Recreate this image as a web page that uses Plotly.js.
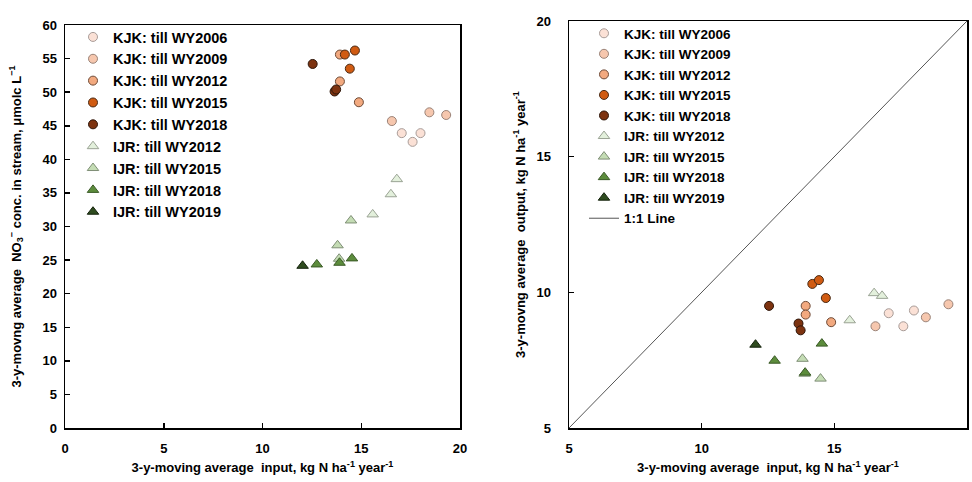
<!DOCTYPE html>
<html><head><meta charset="utf-8">
<script src="https://cdn.plot.ly/plotly-3.0.1.min.js"></script>
<style>body{margin:0;background:#fff}#chart{width:972px;height:482px}</style>
</head><body><div id="chart"></div>
<script>
// Series names
const seriesNames = ["KJK: till WY2006","KJK: till WY2009","KJK: till WY2012","KJK: till WY2015","KJK: till WY2018",
                     "IJR: till WY2012","IJR: till WY2015","IJR: till WY2018","IJR: till WY2019"];
// 3-y moving average input (kg N/ha/yr)
const kjk2006_in = [17.05, 17.6, 18.0];
const kjk2009_in = [16.55, 18.45, 19.3];
const kjk2012_in = [13.92, 13.92, 14.88];
const kjk2015_in = [14.17, 14.42, 14.68];
const kjk2018_in = [12.54, 13.65, 13.73];
const ijr2012_in = [15.58, 16.5, 16.8];
const ijr2015_in = [13.8, 13.88, 14.48];
const ijr2018_in = [12.75, 13.9, 14.53];
const ijr2019_in = [12.03];
// NO3- concentration in stream (umolc/L)
const kjk2006_no3 = [43.9, 42.6, 43.9];
const kjk2009_no3 = [45.7, 47.0, 46.6];
const kjk2012_no3 = [55.6, 51.6, 48.5];
const kjk2015_no3 = [55.6, 53.5, 56.2];
const kjk2018_no3 = [54.2, 50.1, 50.4];
const ijr2012_no3 = [31.8, 34.8, 37.05];
const ijr2015_no3 = [27.2, 25.2, 30.9];
const ijr2018_no3 = [24.35, 24.6, 25.25];
const ijr2019_no3 = [24.15];
// 3-y moving average output (kg N/ha/yr)
const kjk2006_out = [9.23, 8.75, 9.33];
const kjk2009_out = [8.75, 9.08, 9.56];
const kjk2012_out = [9.5, 9.18, 8.9];
const kjk2015_out = [10.31, 10.45, 9.79];
const kjk2018_out = [9.5, 8.85, 8.6];
const ijr2012_out = [8.97, 9.97, 9.87];
const ijr2015_out = [7.55, 7.0, 6.82];
const ijr2018_out = [7.48, 7.04, 8.11];
const ijr2019_out = [8.07];
// 1:1 line
const oneToOne = [5, 20];
const xTicks = [0, 5, 10, 15, 20];
const yTicksL = [0,5,10,15,20,25,30,35,40,45,50,55,60];
const xTicksR = [5, 10, 15, 20];
const yTicksR = [5, 10, 15, 20];

const inputs = [kjk2006_in,kjk2009_in,kjk2012_in,kjk2015_in,kjk2018_in,ijr2012_in,ijr2015_in,ijr2018_in,ijr2019_in];
const no3s = [kjk2006_no3,kjk2009_no3,kjk2012_no3,kjk2015_no3,kjk2018_no3,ijr2012_no3,ijr2015_no3,ijr2018_no3,ijr2019_no3];
const outs = [kjk2006_out,kjk2009_out,kjk2012_out,kjk2015_out,kjk2018_out,ijr2012_out,ijr2015_out,ijr2018_out,ijr2019_out];

const styles = [
  {symbol:'circle', color:'#fbe1d6', line:'#a89c98'},
  {symbol:'circle', color:'#f6c7ae', line:'#9a8378'},
  {symbol:'circle', color:'#f2a97f', line:'#6e4a36'},
  {symbol:'circle', color:'#d05b12', line:'#4a2a14'},
  {symbol:'circle', color:'#7d3310', line:'#2e160a'},
  {symbol:'triangle-up', color:'#e3f0dc', line:'#9aa394'},
  {symbol:'triangle-up', color:'#c4dcb4', line:'#7f8f76'},
  {symbol:'triangle-up', color:'#5c8c3c', line:'#3a5a26'},
  {symbol:'triangle-up', color:'#2f4c1f', line:'#14220c'}
];

const traces = [];
seriesNames.forEach((nm, i) => {
  const s = styles[i];
  const mk = {symbol:s.symbol, size: s.symbol==='circle'?9:10, color:s.color, line:{color:s.line, width:1}};
  traces.push({type:'scatter', mode:'markers', name:nm, x:inputs[i], y:no3s[i], xaxis:'x', yaxis:'y',
    marker:mk, legend:'legend', legendgroup:'L'+i, cliponaxis:false});
});
seriesNames.forEach((nm, i) => {
  const s = styles[i];
  const mk = {symbol:s.symbol, size: s.symbol==='circle'?9:10, color:s.color, line:{color:s.line, width:1}};
  traces.push({type:'scatter', mode:'markers', name:nm, x:inputs[i], y:outs[i], xaxis:'x2', yaxis:'y2',
    marker:mk, legend:'legend2', legendgroup:'R'+i, cliponaxis:false});
});
traces.push({type:'scatter', mode:'lines', name:'1:1 Line', x:oneToOne, y:oneToOne, xaxis:'x2', yaxis:'y2',
  line:{color:'#555555', width:1}, legend:'legend2', legendgroup:'R9'});

const FF = 'Liberation Sans, Arial, sans-serif';
const tickFont = {family:FF, size:13, color:'#000', weight:'bold'};
const titleFont = {family:FF, size:13, color:'#000', weight:'bold'};
const axBase = {showgrid:false, zeroline:false, showline:true, mirror:true, linecolor:'#000', linewidth:1.5,
  ticks:'inside', ticklen:5, tickwidth:1.5, tickcolor:'#000', tickfont:tickFont, fixedrange:true};

const layout = {
  width:972, height:482, margin:{l:0,r:0,t:0,b:0}, paper_bgcolor:'#fff', plot_bgcolor:'#fff',
  showlegend:true,
  font:{family:FF, color:'#000'},
  xaxis: Object.assign({}, axBase, {domain:[65/972, 460/972], range:[0,20], tickvals:xTicks, anchor:'y',
    ticklabelstandoff:8,
    title:{text:'3-y-moving average  input, kg N ha<sup>-1</sup> year<sup>-1</sup>', font:titleFont, standoff:8}}),
  yaxis: Object.assign({}, axBase, {domain:[54/482, 457/482], range:[0,60], tickvals:yTicksL, anchor:'x',
    ticklabelstandoff:4,
    title:{text:'3-y-movng average  NO<sub>3</sub><sup>−</sup> conc. in stream, μmolc L<sup>−1</sup>', font:titleFont, standoff:18}}),
  xaxis2: Object.assign({}, axBase, {domain:[569/972, 967/972], range:[5,20], tickvals:xTicksR, anchor:'y2',
    ticklabelstandoff:8,
    title:{text:'3-y-moving average  input, kg N ha<sup>-1</sup> year<sup>-1</sup>', font:titleFont, standoff:8}}),
  yaxis2: Object.assign({}, axBase, {domain:[54/482, 461/482], range:[5,20], tickvals:yTicksR, anchor:'x2',
    ticklabelstandoff:14,
    title:{text:'3-y-movng average  output, kg N ha<sup>-1</sup> year<sup>-1</sup>', font:titleFont, standoff:8}}),
  legend:{x:73/972, y:1-21/482, xanchor:'left', yanchor:'top', bgcolor:'rgba(0,0,0,0)', borderwidth:0,
    font:{family:FF, size:14.5, color:'#000', weight:'bold'},
    traceorder:'grouped', tracegroupgap:0, itemwidth:30},
  legend2:{x:584/972, y:1-18/482, xanchor:'left', yanchor:'top', bgcolor:'rgba(0,0,0,0)', borderwidth:0,
    font:{family:FF, size:13.5, color:'#000', weight:'bold'},
    traceorder:'grouped', tracegroupgap:0, itemwidth:30}
};
Plotly.newPlot('chart', traces, layout, {staticPlot:true, displayModeBar:false});
</script></body></html>
